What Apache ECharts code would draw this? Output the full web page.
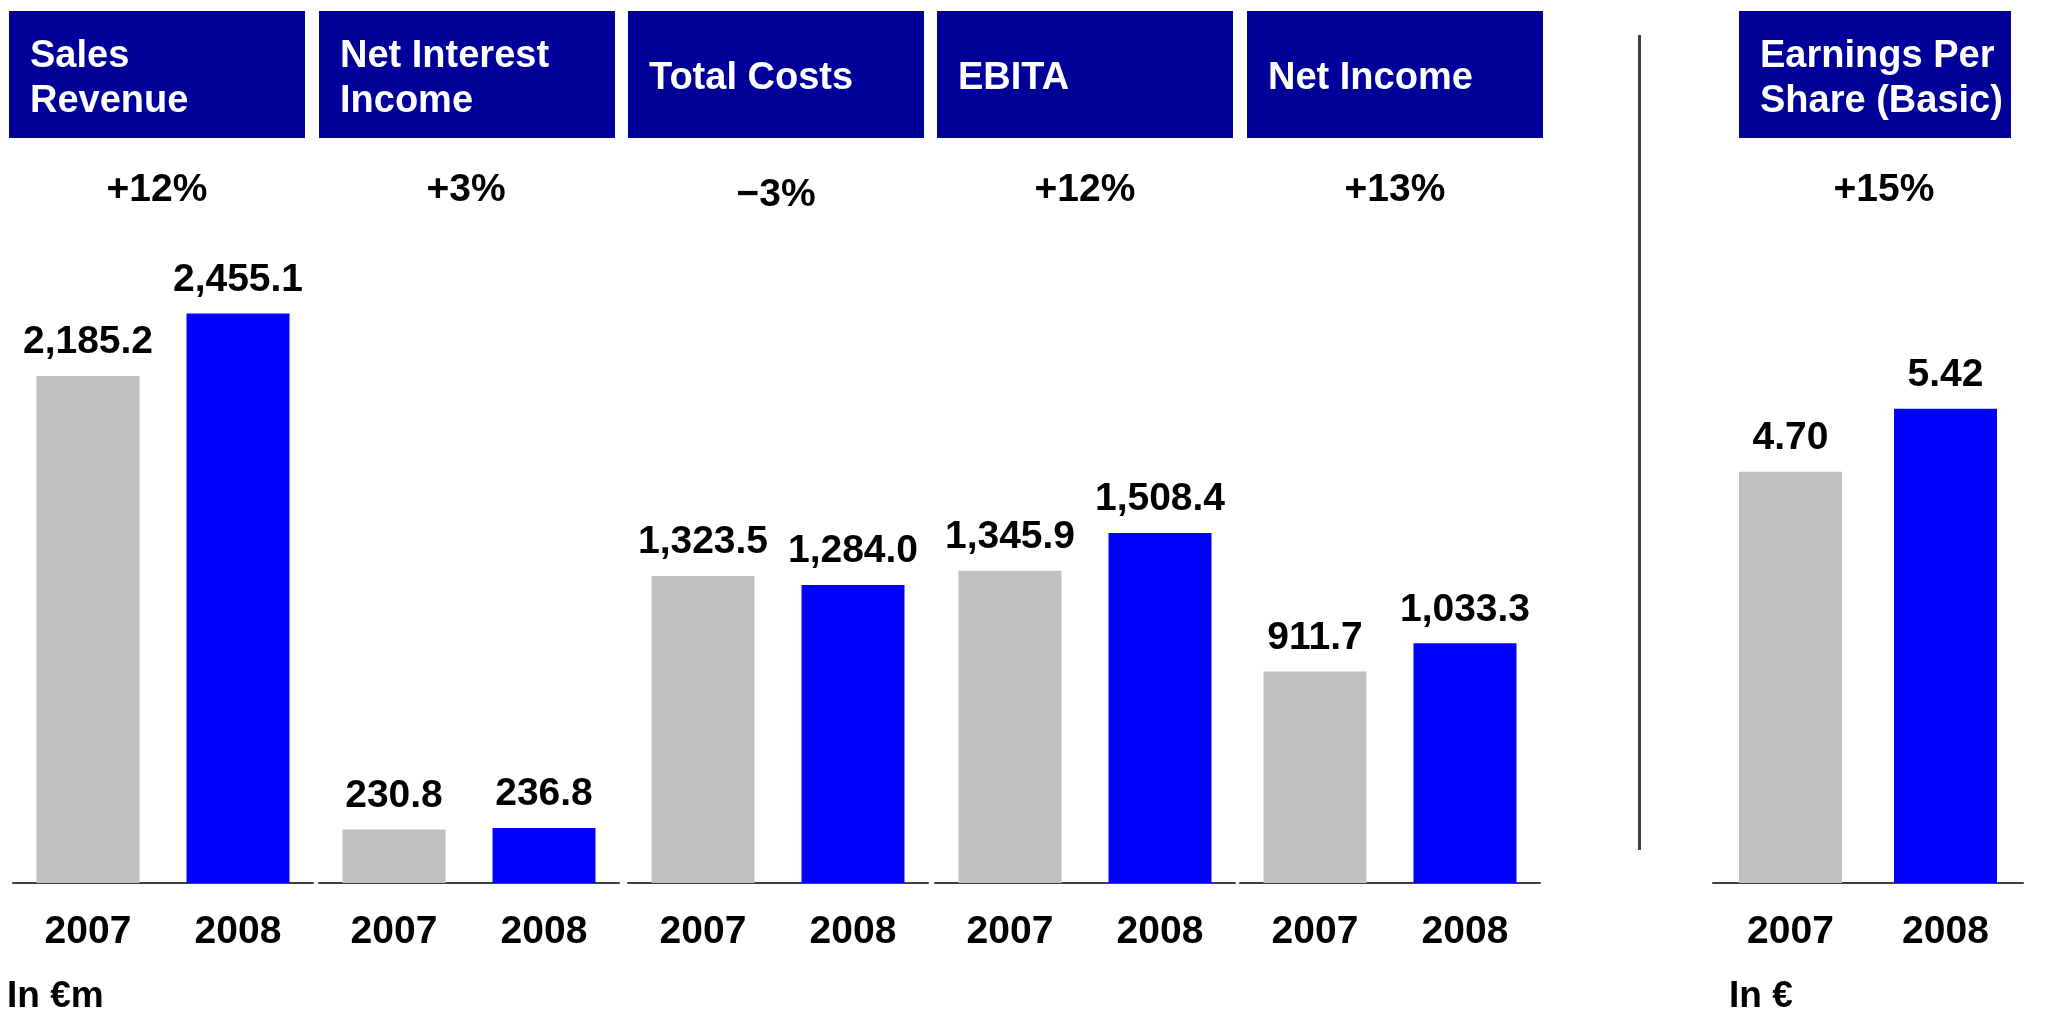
<!DOCTYPE html>
<html>
<head>
<meta charset="utf-8">
<title>Key Figures 2007 vs 2008</title>
<script src="https://cdn.jsdelivr.net/npm/echarts@6/dist/echarts.min.js"></script>
<style>
  html, body { margin: 0; padding: 0; background: #ffffff; }
  #chart { width: 2058px; height: 1013px; }
</style>
</head>
<body>
<div id="chart"></div>
<script>
// ---- Data ----
const years = ['2007', '2008'];
const panelTitles = ['Sales\nRevenue', 'Net Interest\nIncome', 'Total Costs', 'EBITA', 'Net Income', 'Earnings Per\nShare (Basic)'];
const values2007 = [2185.2, 230.8, 1323.5, 1345.9, 911.7, 4.70];   // € m, last one EPS in €
const values2008 = [2455.1, 236.8, 1284.0, 1508.4, 1033.3, 5.42];
const changes = ['+12%', '+3%', '\u22123%', '+12%', '+13%', '+15%'];
const decimals = [1, 1, 1, 1, 1, 2];
const unitLabels = ['In \u20acm', 'In \u20ac'];

// ---- Layout & style ----
const FONT = '"Liberation Sans", Arial, "Helvetica Neue", sans-serif';
const NAVY = '#000099';
const GREY = '#c0c0c0';
const BLUE = '#0000ff';
const AXIS = '#404040';

// plot area of each panel: [left, width]
const plots = [[13, 300], [319, 300], [628, 300], [935, 300], [1240, 300], [1713, 310]];
// header box of each panel: [left, right]
const boxes = [[9, 305], [319, 615], [628, 924], [937, 1233], [1247, 1543], [1739, 2011]];
// horizontal centre of each change label
const changeX = [157, 466, 776, 1085, 1395, 1884];
const changeDy = [0, 0, 5, 0, 0, 0];
const axisBottom = 883;
const yMax = [3000, 3000, 3000, 3000, 3000, 8];
const gridTop = [187, 187, 187, 187, 187, 183];

const fmt = (v, d) => v.toLocaleString('en-US', { minimumFractionDigits: d, maximumFractionDigits: d });

const grids = [], xAxes = [], yAxes = [], series = [], graphics = [];

plots.forEach(([left, width], i) => {
  grids.push({ left: left, width: width, top: gridTop[i], bottom: 1013 - axisBottom, containLabel: false });
  xAxes.push({
    type: 'category', gridIndex: i, data: years,
    axisLine: { show: true, lineStyle: { color: AXIS, width: 2 } },
    axisTick: { show: false },
    axisLabel: { color: '#000', fontFamily: FONT, fontWeight: 'bold', fontSize: 39, margin: 30 }
  });
  yAxes.push({
    type: 'value', gridIndex: i, min: 0, max: yMax[i],
    show: false, splitLine: { show: false }
  });
  series.push({
    type: 'bar', xAxisIndex: i, yAxisIndex: i, barWidth: 103,
    silent: true, animation: false,
    data: [
      { value: values2007[i], itemStyle: { color: GREY } },
      { value: values2008[i], itemStyle: { color: BLUE } }
    ],
    label: {
      show: true, position: 'top', distance: 14,
      color: '#000', fontFamily: FONT, fontWeight: 'bold', fontSize: 39,
      formatter: p => fmt(p.value, decimals[i])
    }
  });
});

// header boxes with titles
boxes.forEach(([l, r], i) => {
  graphics.push({
    type: 'rect', left: l, top: 11, silent: true,
    shape: { width: r - l, height: 127 },
    style: { fill: NAVY }
  });
  graphics.push({
    type: 'text', x: l + 21, y: 79, silent: true,
    style: {
      text: panelTitles[i], fill: '#ffffff', font: 'bold 38px ' + FONT,
      lineHeight: 45, align: 'left', verticalAlign: 'middle'
    }
  });
  graphics.push({
    type: 'text', x: changeX[i], y: 190 + changeDy[i], silent: true,
    style: {
      text: changes[i], fill: '#000000', font: 'bold 39px ' + FONT,
      align: 'center', verticalAlign: 'middle'
    }
  });
});

// divider between the € m panels and EPS
graphics.push({
  type: 'rect', left: 1638, top: 35, silent: true,
  shape: { width: 3, height: 815 },
  style: { fill: AXIS }
});

// unit notes
graphics.push({
  type: 'text', x: 7, y: 997, silent: true,
  style: { text: unitLabels[0], fill: '#000', font: 'bold 37px ' + FONT, align: 'left', verticalAlign: 'middle' }
});
graphics.push({
  type: 'text', x: 1729, y: 997, silent: true,
  style: { text: unitLabels[1], fill: '#000', font: 'bold 37px ' + FONT, align: 'left', verticalAlign: 'middle' }
});

const chart = echarts.init(document.getElementById('chart'), null, { renderer: 'canvas' });
chart.setOption({
  animation: false,
  backgroundColor: '#ffffff',
  grid: grids,
  xAxis: xAxes,
  yAxis: yAxes,
  series: series,
  graphic: graphics
});
</script>
</body>
</html>
